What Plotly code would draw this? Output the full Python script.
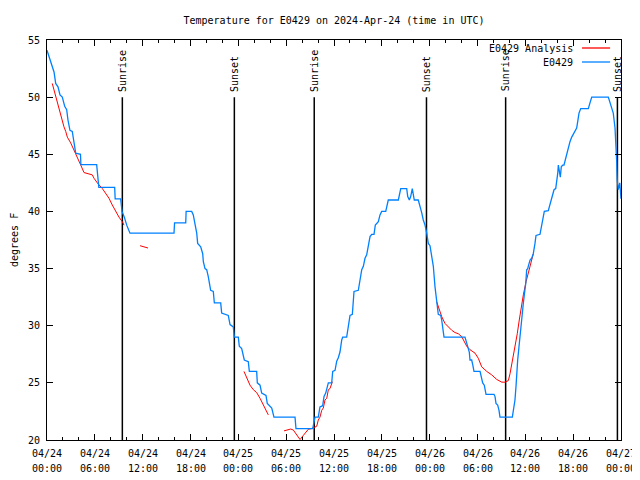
import plotly.graph_objects as go

# ---------------- data ----------------
title_text = "Temperature for E0429 on 2024-Apr-24 (time in UTC)"
tick_hours = [0, 6, 12, 18, 24, 30, 36, 42, 48, 54, 60, 66, 72]
tick_dates = ["04/24", "04/24", "04/24", "04/24", "04/25", "04/25", "04/25", "04/25",
              "04/26", "04/26", "04/26", "04/26", "04/27"]
tick_times = ["00:00", "06:00", "12:00", "18:00", "00:00", "06:00", "12:00", "18:00",
              "00:00", "06:00", "12:00", "18:00", "00:00"]

sunrise_hours = [9.45, 33.52, 57.53]
sunset_hours = [23.50, 47.60, 71.55]

# observed station series (hours since 04/24 00:00 UTC, deg F)
obs_hours = [0.0, 0.46, 0.66, 0.88, 1.09, 1.38, 1.63, 1.92, 2.22, 2.47, 2.63, 2.88, 3.17, 3.39,
             3.60, 4.20, 4.25, 6.23, 6.50, 8.49, 8.55, 9.24, 9.30, 9.41, 9.70, 10.0, 10.41,
             15.93, 16.0, 17.40, 17.45, 18.15, 18.35, 18.57, 18.78, 18.90, 19.28, 19.53, 19.61,
             19.82, 20.03, 20.23, 20.36, 20.53, 20.86, 20.99, 21.79, 21.91, 22.74, 22.96, 23.37,
             23.49, 24.00, 24.12, 24.42, 24.62, 24.75, 25.25, 25.38, 26.30, 26.38, 26.72, 26.93,
             27.47, 27.63, 28.19, 28.47, 31.11, 31.23, 33.33, 33.49, 33.62, 34.03, 34.24, 34.58,
             34.75, 34.96, 35.16, 35.29, 35.71, 35.84, 36.13, 36.34, 36.54, 36.75, 36.97, 37.09,
             37.59, 37.79, 38.01, 38.30, 38.42, 38.51, 39.05, 39.17, 39.35, 39.48, 39.68, 39.89,
             40.10, 40.30, 40.52, 40.73, 41.02, 41.18, 41.36, 41.56, 41.77, 41.98, 42.49, 42.74,
             42.81, 44.07, 44.28, 44.37, 45.12, 45.25, 45.45, 45.62, 45.82, 45.95, 46.07, 46.57,
             46.70, 46.88, 47.00, 47.20, 47.42, 47.63, 47.70, 47.83, 48.04, 48.26, 48.46, 48.67,
             48.80, 48.96, 49.08, 49.39, 49.51, 49.64, 49.80, 52.43, 52.55, 52.72, 52.97, 53.06,
             53.27, 53.40, 53.56, 54.32, 54.44, 54.65, 54.85, 55.07, 56.07, 56.20, 56.32, 56.53,
             56.70, 56.82, 58.37, 58.49, 58.70, 58.83, 58.92, 59.04, 59.21, 59.33, 59.46, 59.62,
             59.75, 59.87, 60.05, 60.17, 60.30, 60.37, 60.59, 60.80, 61.00, 61.21, 61.34, 61.84,
             62.05, 62.18, 62.38, 62.88, 63.10, 63.22, 63.38, 63.60, 63.81, 63.93, 64.06, 64.14,
             64.26, 64.39, 64.51, 64.69, 64.85, 65.06, 65.19, 65.39, 65.60, 65.82, 66.02, 66.23,
             66.44, 66.57, 66.73, 66.95, 67.90, 68.11, 68.33, 70.41, 70.62, 70.83, 71.03, 71.25,
             71.38, 71.46, 71.53, 71.66, 71.85, 72.0]
obs_temps = [54.1, 53.1, 52.8, 52.2, 51.2, 50.9, 50.2, 50.0, 49.2, 48.9, 48.0, 47.1, 47.0, 46.0,
             45.1, 45.0, 44.1, 44.1, 42.1, 42.1, 41.1, 41.1, 40.6, 40.0, 39.5, 38.8, 38.1,
             38.1, 39.0, 39.0, 40.0, 40.0, 39.7, 39.0, 38.1, 37.2, 36.9, 36.3, 35.6,
             35.0, 34.9, 34.3, 33.7, 33.1, 33.0, 32.0, 32.0, 31.1, 30.9, 30.1, 29.9,
             29.0, 29.0, 28.2, 28.0, 27.3, 27.0, 26.85, 26.0, 26.0, 25.0, 24.8, 24.1,
             23.9, 23.2, 22.8, 22.0, 22.0, 21.0, 21.0, 21.7, 22.0, 22.0, 22.9, 23.0,
             23.8, 24.1, 24.7, 25.0, 25.0, 26.0, 26.1, 26.9, 27.2, 27.7, 28.75, 29.0,
             29.0, 29.9, 30.9, 31.0, 32.0, 33.0, 33.1, 33.7, 34.3, 34.9, 35.2, 35.9,
             36.2, 36.9, 37.8, 38.0, 38.0, 38.8, 39.0, 39.1, 39.7, 40.0, 40.0, 40.85,
             41.0, 41.0, 41.7, 42.0, 42.0, 41.3, 41.0, 41.3, 42.0, 41.6, 41.0, 41.0,
             40.7, 40.1, 39.9, 39.25, 38.8, 38.1, 37.65, 37.2, 37.0, 36.2, 35.2, 33.4,
             32.4, 31.7, 31.0, 30.9, 30.5, 29.9, 29.0, 29.0, 28.75, 28.2, 27.7, 27.0,
             27.0, 26.6, 26.0, 26.0, 25.5, 25.0, 24.8, 24.0, 24.0, 23.8, 23.2, 23.06,
             22.6, 22.0, 22.0, 22.5, 23.5, 24.7, 25.8, 27.0, 28.2, 29.2, 30.06, 31.1,
             31.96, 32.7, 33.7, 34.9, 35.0, 35.2, 35.75, 35.9, 36.3, 37.2, 37.9, 38.0,
             38.8, 39.5, 40.0, 40.06, 40.56, 41.0, 41.4, 41.9, 42.0, 42.5, 43.3, 44.06,
             43.6, 43.0, 43.9, 44.06, 44.06, 44.65, 45.1, 45.7, 46.1, 46.5, 46.8, 47.0,
             47.3, 47.85, 48.6, 49.0, 49.0, 49.5, 50.0, 50.0, 49.5, 49.0, 48.6, 47.3,
             46.0, 44.35, 42.75, 41.9, 42.5, 41.1]

# analysis series (None = gap)
ana_hours = [0.66, 0.88, 1.09, 1.29, 1.51, 1.72, 1.92, 2.13, 2.35, 2.55, 2.97, 3.39, 3.80, 4.23,
             4.64, 5.06, 5.68, 5.90, 6.31, 6.94, 7.36, 7.78, 8.19, 8.62, 9.03, 9.45, 9.66, 10.0,
             11.67, 12.67, 13.0,
             24.71, 25.05, 25.46, 25.88, 26.30, 26.72, 27.13, 27.56, 27.76, 28.0,
             29.73, 30.07, 30.57, 30.90, 31.32, 31.74, 32.15, 32.78, 33.20, 33.53, 33.83, 34.03,
             34.24, 34.46, 34.66, 34.87, 35.09, 35.29, 35.50, 35.79, 36.0,
             48.88, 49.08, 49.30, 49.51, 49.92, 50.34, 50.77, 51.18, 51.59, 52.02, 52.22, 52.65,
             53.06, 53.69, 54.10, 54.53, 55.16, 55.78, 56.41, 57.04, 57.45, 57.87, 58.08, 58.42,
             58.71, 58.99, 59.24, 59.50, 59.75, 60.09, 60.37, 60.59, 60.88, 61.00]
ana_temps = [51.2, 50.6, 50.0, 49.5, 48.9, 48.3, 47.85, 47.4, 47.0, 46.5, 46.0, 45.4, 44.8, 44.06,
             43.4, 43.3, 43.2, 42.9, 42.5, 42.0, 41.6, 41.15, 40.56, 40.0, 39.5, 39.1, 38.8, None,
             37.0, 36.8, None,
             26.0, 25.4, 24.8, 24.4, 24.15, 23.65, 23.06, 22.5, 22.2, None,
             20.8, 20.87, 20.96, 20.87, 20.4, 20.04, 20.4, 20.94, 21.0, 21.1, 21.2, 21.75,
             22.0, 22.6, 22.8, 23.5, 23.65, 24.4, 24.5, 25.1, None,
             32.1, 31.7, 31.2, 30.8, 30.2, 29.9, 29.6, 29.4, 29.3, 29.04, 28.75, 28.2,
             27.9, 27.6, 27.15, 26.4, 26.0, 25.7, 25.3, 25.06, 25.06, 25.2, 25.8, 27.0,
             28.2, 29.3, 30.5, 31.7, 32.7, 33.85, 34.6, 35.2, 36.0, 36.3]

# ---------------- style ----------------
FONT = "DejaVu Sans Mono"
RED = "#ff0000"
BLUE = "#0080ff"
FIG_W, FIG_H = 632, 472   # page body adds an 8px offset; this keeps the 640x480 view aligned

fig = go.Figure()
fig.add_trace(go.Scatter(x=ana_hours, y=ana_temps, mode="lines", name="E0429 Analysis",
                         line=dict(color=RED, width=1), connectgaps=False, showlegend=False))
fig.add_trace(go.Scatter(x=obs_hours, y=obs_temps, mode="lines", name="E0429",
                         line=dict(color=BLUE, width=1.3), showlegend=False))

LINE_TOP = 50.0
LABEL_BOTTOM = 50.3
for hours, label in ((sunrise_hours, "Sunrise"), (sunset_hours, "Sunset")):
    for h in hours:
        fig.add_shape(type="line", x0=h, x1=h, y0=20, y1=LINE_TOP, xref="x", yref="y",
                      line=dict(color="black", width=1.5), layer="below")
        fig.add_annotation(x=h, y=LABEL_BOTTOM, text=label, textangle=-90, showarrow=False,
                           xanchor="center", yanchor="bottom",
                           font=dict(family=FONT, size=10, color="black"))

# x tick labels (two lines, gnuplot spacing)
for h, d, t in zip(tick_hours, tick_dates, tick_times):
    fig.add_annotation(x=h, y=0, xref="x", yref="paper", text=d, showarrow=False,
                       xanchor="center", yanchor="middle", yshift=-13,
                       font=dict(family=FONT, size=10, color="black"))
    fig.add_annotation(x=h, y=0, xref="x", yref="paper", text=t, showarrow=False,
                       xanchor="center", yanchor="middle", yshift=-28,
                       font=dict(family=FONT, size=10, color="black"))

# y axis title
fig.add_annotation(x=0, y=0.5, xref="paper", yref="paper", text="degrees F", textangle=-90,
                   showarrow=False, xanchor="center", yanchor="middle", xshift=-33,
                   font=dict(family=FONT, size=10, color="black"))

# manual gnuplot-style legend (text, then line sample)
legend_items = [("E0429 Analysis", RED, 0.980), ("E0429", BLUE, 0.945)]
for name, col, yy in legend_items:
    fig.add_annotation(x=0.92, y=yy, xref="paper", yref="paper", text=name, showarrow=False,
                       xanchor="right", yanchor="middle", font=dict(family=FONT, size=10, color="black"))
    fig.add_shape(type="line", x0=0.932, x1=0.981, y0=yy, y1=yy, xref="paper", yref="paper",
                  line=dict(color=col, width=1.3))

fig.update_layout(
    width=FIG_W, height=FIG_H,
    margin=dict(l=39, r=19, t=32, b=40, autoexpand=False),
    paper_bgcolor="white", plot_bgcolor="white",
    font=dict(family=FONT, size=10, color="black"),
    title=dict(text=title_text, x=0.5, xref="paper", y=1 - 12 / FIG_H, yref="container",
               xanchor="center", yanchor="middle", font=dict(family=FONT, size=10, color="black")),
    showlegend=False,
)
fig.update_xaxes(range=[0, 72], tickmode="array", tickvals=tick_hours, showticklabels=False,
                 ticks="inside", ticklen=6, tickwidth=1, tickcolor="black",
                 showline=True, linecolor="black", linewidth=1, mirror="allticks",
                 showgrid=False, zeroline=False, automargin=False,
                 minor=dict(tickmode="linear", tick0=0, dtick=2, ticks="inside", ticklen=3,
                            tickcolor="black", showgrid=False))
fig.update_yaxes(range=[20, 55], tickmode="linear", tick0=20, dtick=5,
                 ticks="inside", ticklen=6, tickwidth=1, tickcolor="black",
                 showline=True, linecolor="black", linewidth=1, mirror="allticks",
                 showgrid=False, zeroline=False, automargin=False, ticklabelstandoff=4,
                 tickfont=dict(family=FONT, size=10, color="black"))

fig.write_html("out.html")
